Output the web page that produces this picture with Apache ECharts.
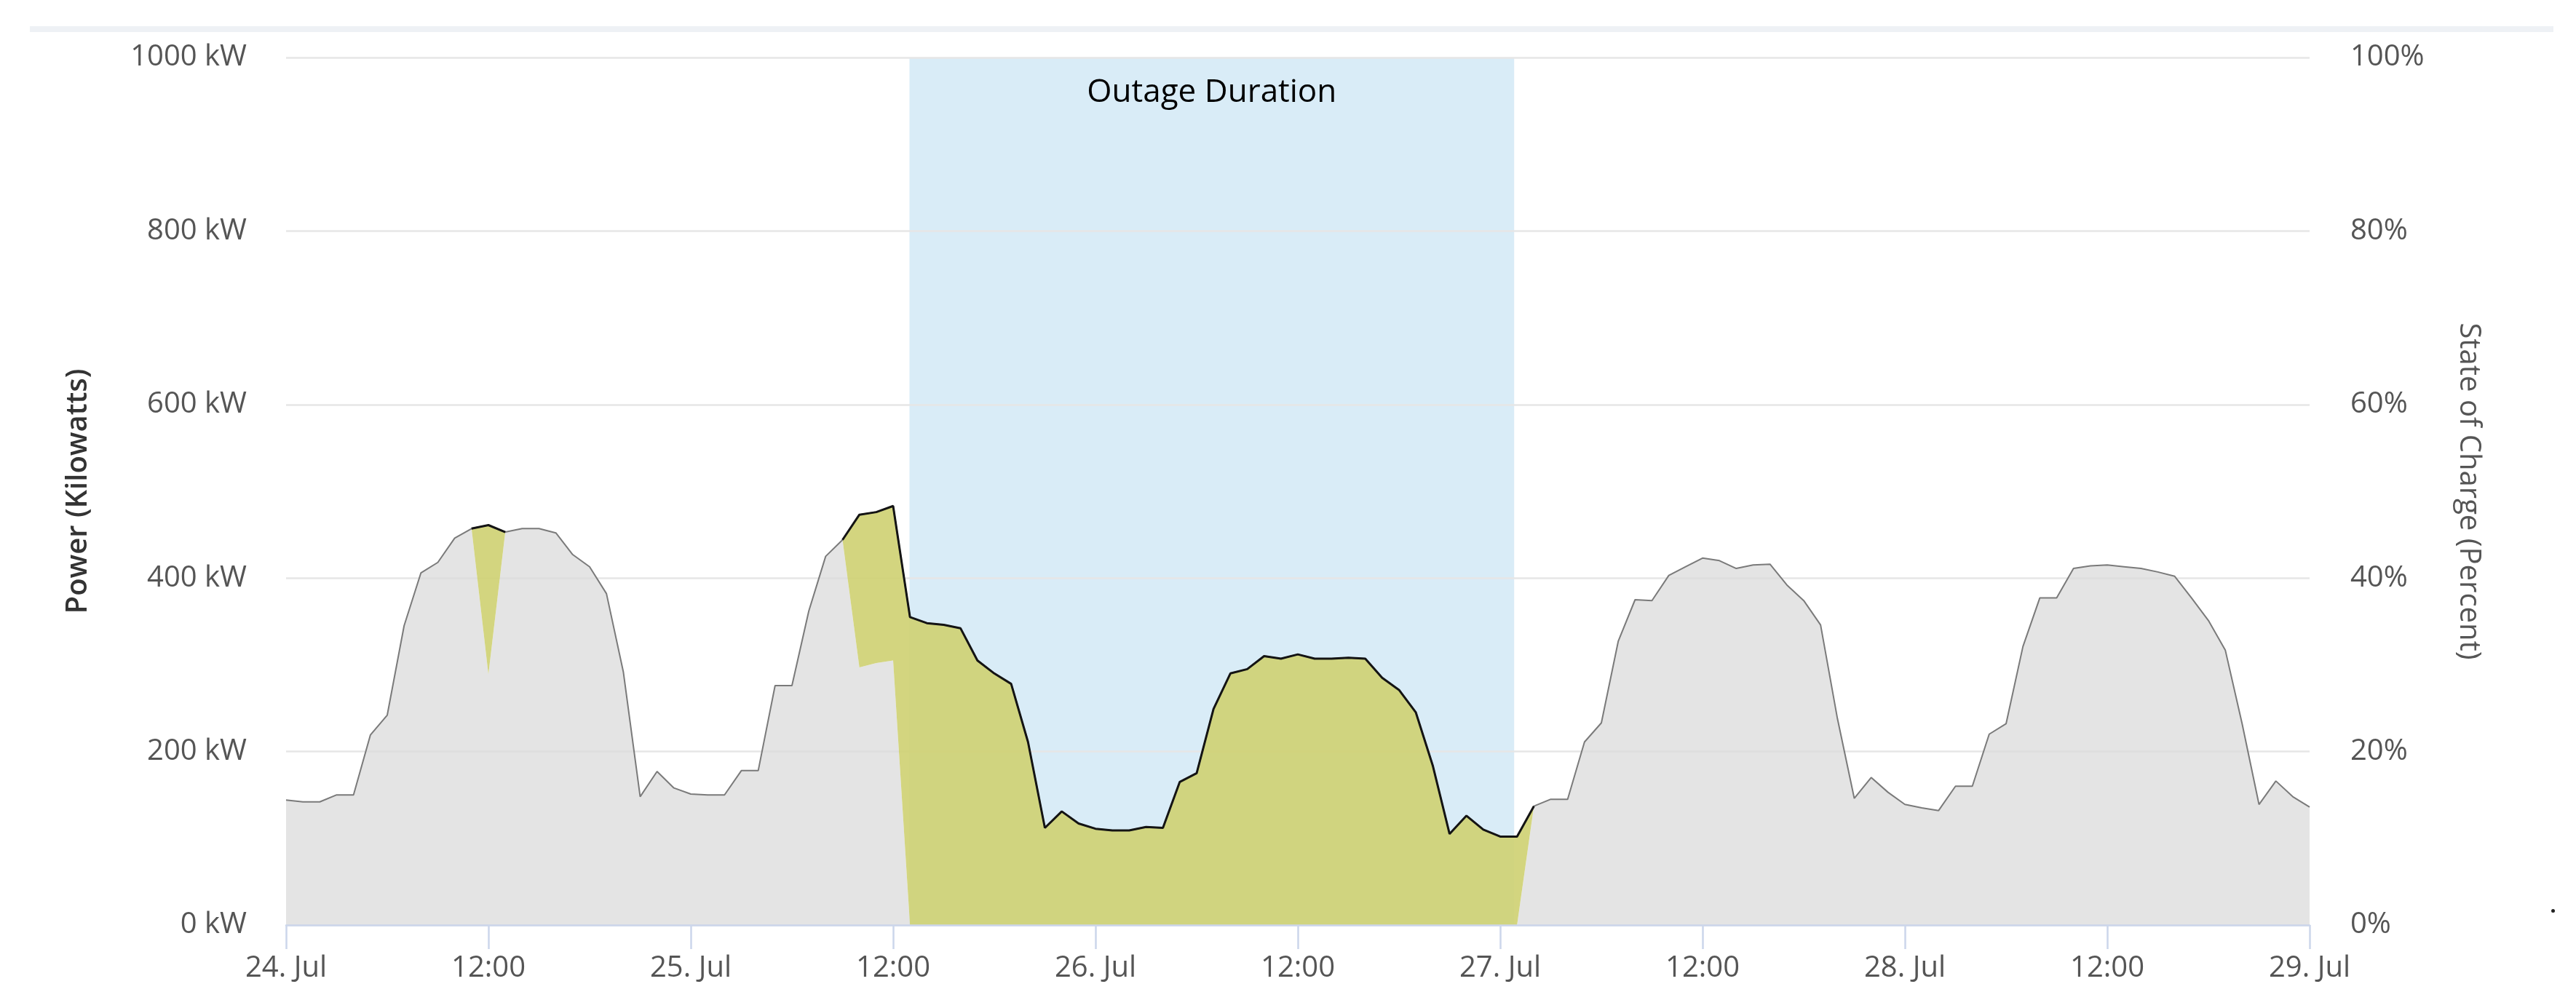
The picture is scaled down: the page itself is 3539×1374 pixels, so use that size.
<!DOCTYPE html>
<html>
<head>
<meta charset="utf-8">
<title>Outage Duration</title>
<script src="https://cdn.jsdelivr.net/npm/echarts@6/dist/echarts.min.js"></script>
<style>
  html, body { margin: 0; padding: 0; background: #fff; }
  #chart { width: 3539px; height: 1374px; }
</style>
</head>
<body>
<div id="chart"></div>
<script>
const _ = null

// hourly readings from 24 Jul 00:00 to 29 Jul 00:00, index = hours since start
const hours = Array.from({ length: 121 }, (_v, i) => i)

// power drawn from the grid (kW)
const gridKw = [
  144, 142, 142, 150, 150, 219, 242, 345, 406, 418, 446, 457,
  289, 453, 457, 457, 452, 427, 413, 382, 292, 148, 177, 158,
  151, 150, 150, 178, 178, 276, 276, 362, 425, 444, 297, 302,
  305, 0, 0, 0, 0, 0, 0, 0, 0, 0, 0, 0,
  0, 0, 0, 0, 0, 0, 0, 0, 0, 0, 0, 0,
  0, 0, 0, 0, 0, 0, 0, 0, 0, 0, 0, 0,
  0, 0, 137, 145, 145, 211, 233, 327, 375, 374, 403, 413,
  423, 420, 411, 415, 416, 392, 374, 346, 238, 146, 170, 153,
  139, 135, 132, 160, 160, 220, 232, 321, 377, 377, 411, 414,
  415, 413, 411, 407, 402, 377, 351, 317, 232, 139, 166, 148,
  136,
]

// power supplied by the battery, stacked on top of the grid (kW)
const batteryKw = [
  _, _, _, _, _, _, _, _, _, _, _, 0,
  172, 0, _, _, _, _, _, _, _, _, _, _,
  _, _, _, _, _, _, _, _, _, 0, 176, 174,
  178, 355, 348, 346, 342, 305, 290, 278, 211, 112, 131, 117,
  111, 109, 109, 113, 112, 165, 175, 249, 290, 295, 310, 307,
  312, 307, 307, 308, 307, 285, 271, 245, 184, 105, 126, 110,
  102, 102, 0, _, _, _, _, _, _, _, _, _,
  _, _, _, _, _, _, _, _, _, _, _, _,
  _, _, _, _, _, _, _, _, _, _, _, _,
  _, _, _, _, _, _, _, _, _, _, _, _,
  _,
]

const xTickLabels = ['24. Jul', '12:00', '25. Jul', '12:00', '26. Jul', '12:00',
  '27. Jul', '12:00', '28. Jul', '12:00', '29. Jul']

// outage window in hours since 24 Jul 00:00
const outageRange = [36.97, 72.83]

// total site load = grid + battery, used for the thin outline on top
const loadKw = gridKw.map((g, i) => g + (batteryKw[i] ?? 0))

const font = 'Open Sans'
const axisBlue = '#ccd6eb'
const chart = echarts.init(document.getElementById('chart'))

chart.setOption({
  animation: false,
  textStyle: { fontFamily: font },
  grid: { left: 393, right: 366, top: 79, bottom: 103 },
  graphic: [
    {
      type: 'rect', left: 41, top: 36, silent: true,
      shape: { width: 3467, height: 8 },
      style: { fill: '#eef1f5' },
    },
    {
      type: 'circle', left: 3505, top: 1249, silent: true,
      shape: { r: 2.5 },
      style: { fill: '#222' },
    },
  ],
  xAxis: [
    {
      type: 'category',
      data: hours,
      boundaryGap: false,
      z: 4,
      axisLine: { lineStyle: { color: axisBlue, width: 2.5 } },
      axisTick: { show: true, interval: 11, length: 33, lineStyle: { color: axisBlue, width: 2.5 } },
      splitLine: { show: false },
      axisLabel: {
        interval: 11,
        color: '#555',
        fontSize: 40,
        margin: 40,
        formatter: (v) => xTickLabels[Math.round(v / 12)],
      },
    },
    {
      // hidden linear axis used only to place the outage band
      type: 'value',
      min: 0,
      max: 120,
      show: false,
    },
  ],
  yAxis: [
    {
      type: 'value',
      min: 0,
      max: 1000,
      interval: 200,
      z: 1.5,
      name: 'Power (Kilowatts)',
      nameLocation: 'middle',
      nameGap: 265,
      nameTextStyle: { fontSize: 40, fontWeight: 600, color: '#333' },
      axisLine: { show: false },
      axisTick: { show: false },
      axisLabel: { formatter: (v) => v + ' kW', fontSize: 40, color: '#555', margin: 54 },
      splitLine: { lineStyle: { color: '#e6e6e6', width: 2.5 } },
    },
    {
      type: 'value',
      position: 'right',
      min: 0,
      max: 100,
      interval: 20,
      name: 'State of Charge (Percent)',
      nameLocation: 'middle',
      nameRotate: -90,
      nameGap: 198,
      nameTextStyle: { fontSize: 40, color: '#555' },
      axisLine: { show: false },
      axisTick: { show: false },
      axisLabel: { formatter: (v) => v + '%', fontSize: 40, color: '#555', margin: 56 },
      splitLine: { show: false },
    },
  ],
  series: [
    {
      name: 'Outage',
      type: 'line',
      xAxisIndex: 1,
      data: [],
      markArea: {
        silent: true,
        itemStyle: { color: '#d9ecf7' },
        label: {
          show: true,
          position: 'insideTop',
          distance: 26,
          color: '#000',
          fontSize: 44,
          fontFamily: font,
        },
        data: [[{ name: 'Outage Duration', xAxis: outageRange[0] }, { xAxis: outageRange[1] }]],
      },
    },
    {
      name: 'Grid',
      type: 'line',
      stack: 'power',
      symbol: 'none',
      z: 2,
      data: gridKw,
      lineStyle: { width: 0 },
      areaStyle: { color: '#dbdbdb', opacity: 0.75 },
    },
    {
      name: 'Battery',
      type: 'line',
      stack: 'power',
      symbol: 'none',
      z: 3,
      connectNulls: false,
      data: batteryKw,
      lineStyle: { width: 0 },
      areaStyle: { color: '#cfd174', opacity: 0.92 },
    },
    {
      name: 'Load',
      type: 'line',
      symbol: 'none',
      z: 4,
      data: loadKw,
      lineStyle: { color: '#7a7a7a', width: 2 },
    },
    {
      // black outline only where the battery is supplying power
      name: 'Battery outline',
      type: 'line',
      stack: 'outline',
      symbol: 'none',
      z: 5,
      connectNulls: false,
      data: batteryKw.map((b, i) => (b === null ? null : b + gridKw[i])),
      lineStyle: { color: '#141414', width: 3 },
    },
  ],
})
</script>
</body>
</html>
